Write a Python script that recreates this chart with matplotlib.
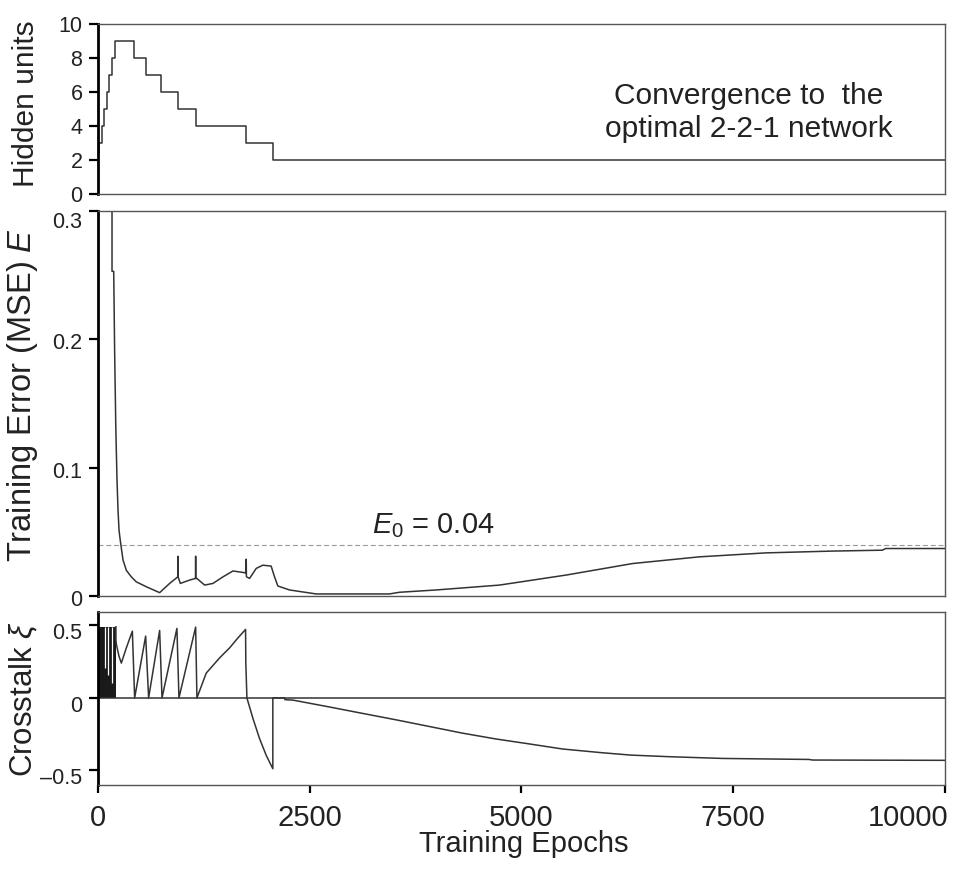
import matplotlib
matplotlib.use('Agg')
import matplotlib.pyplot as plt
import matplotlib.transforms as mtransforms

plt.rcParams['font.family'] = ['Liberation Sans', 'DejaVu Sans']
plt.rcParams['mathtext.fontset'] = 'custom'
plt.rcParams['mathtext.rm'] = 'Liberation Sans'
plt.rcParams['mathtext.it'] = 'Liberation Sans:italic'
plt.rcParams['mathtext.sf'] = 'Liberation Sans'

# ---------------- data ----------------
# Hidden units (step function)
hu_epochs = [0, 20, 35, 55, 74, 110, 133, 169, 209, 425, 574, 751, 947, 1164, 1753, 2067, 10000]
hu_units = [2.4, 3, 3, 4, 5, 6, 7, 8, 9, 8, 7, 6, 5, 4, 3, 2, 2]

# Training error
err_epochs = [169, 169, 189, 200, 214, 228, 240, 252, 271, 299,
              338, 397, 456, 574, 731, 849, 945, 947, 949, 975,
              1085, 1154, 1156, 1158, 1170, 1262, 1360, 1478, 1596, 1751,
              1753, 1755, 1792, 1871, 1949, 2047, 2087, 2126, 2264, 2579,
              3443, 3561, 3994, 4741, 5527, 6313, 7099, 7885, 8671, 9261,
              9300, 10000]
err_values = [0.40, 0.253, 0.253, 0.19, 0.13, 0.09, 0.0667, 0.051, 0.041, 0.028,
              0.020, 0.0149, 0.011, 0.0072, 0.0026, 0.0098, 0.0149, 0.031, 0.0149, 0.0098,
              0.0124, 0.0137, 0.031, 0.0137, 0.0137, 0.0085, 0.0098, 0.0149, 0.0195, 0.018,
              0.0287, 0.015, 0.0137, 0.0215, 0.024, 0.0233, 0.0149, 0.0078, 0.0047, 0.0016,
              0.0016, 0.0029, 0.0047, 0.0085, 0.0163, 0.0253, 0.0305, 0.0336, 0.035, 0.0357,
              0.037, 0.037]
E0 = 0.04

# Crosstalk
ct_dense_epochs = [0, 0, 215, 215]          # dense oscillation block (outline)
ct_dense_values = [0, 0.49, 0.49, 0]
ct_gap_epochs = [86, 126, 173]              # light gaps inside the dense block
ct_gap_low = [0.205, 0.159, 0.10]
ct_gap_high = [0.49, 0.49, 0.49]

ct_epochs = [215, 215, 220, 250, 279, 338, 409, 436, 566, 601,
             731, 759, 935, 959, 1156, 1171, 1281, 1439, 1557, 1650,
             1745, 1748, 1761, 1832, 1910, 1989, 2067, 2067, 2205, 2210,
             2303, 2736, 3129, 3522, 3915, 4308, 4701, 5094, 5487, 5959,
             6293, 6745, 7374, 8396, 8436, 10000]
ct_values = [0.49, 0.40, 0.37, 0.29, 0.24, 0.345, 0.46, 0.0, 0.426, 0.0,
             0.465, 0.0, 0.479, 0.0, 0.488, 0.0, 0.171, 0.276, 0.345, 0.41,
             0.472, 0.243, 0.0, -0.141, -0.28, -0.396, -0.488, 0.0, 0.0, -0.012,
             -0.015, -0.0625, -0.107, -0.151, -0.197, -0.243, -0.283, -0.317, -0.352, -0.378,
             -0.394, -0.405, -0.417, -0.424, -0.428, -0.43]

x_ticks = [0, 2500, 5000, 7500, 10000]
hu_ticks = [0, 2, 4, 6, 8, 10]
err_ticks = [0, 0.1, 0.2, 0.3]
err_ticklabels = ['0', '0.1', '0.2', '0.3']
ct_ticks = [-0.5, 0, 0.5]
ct_ticklabels = ['\u20130.5', '0', '0.5']

# ---------------- figure ----------------
W, H = 954, 875
fig = plt.figure(figsize=(W / 100, H / 100), dpi=100)

L = 97.7 / W
AW = (945 - 97.7) / W

def rect(top_px, bot_px):
    return [L, 1 - bot_px / H, AW, (bot_px - top_px) / H]

ax1 = fig.add_axes(rect(24, 194))
ax2 = fig.add_axes(rect(211, 596))
ax3 = fig.add_axes(rect(612, 785))

LINE = '#333333'
SP = '#555555'
TXT = '#222222'
LABX = -0.0683

def shift(label, dx_px, dy_px):
    label.set_transform(label.get_transform() +
                        mtransforms.ScaledTranslation(dx_px / 100, dy_px / 100, fig.dpi_scale_trans))

for ax in (ax1, ax2, ax3):
    ax.set_xlim(0, 10000)
    for s in ('top', 'right', 'bottom'):
        ax.spines[s].set_color(SP)
        ax.spines[s].set_linewidth(1.0)
    ax.spines['left'].set_color('black')
    ax.spines['left'].set_linewidth(2.0)
    ax.tick_params(axis='y', direction='out', length=6.5, width=1.6, color='black',
                   labelsize=15.5, pad=4.5, right=False, labelcolor=TXT)
    ax.set_xticks(x_ticks)
    ax.patch.set_alpha(0)

for ax in (ax1, ax2):
    ax.tick_params(axis='x', bottom=False, labelbottom=False, top=False)

ax3.tick_params(axis='x', direction='out', length=6, width=1.6, color='black',
                labelsize=21, pad=8, labelcolor=TXT)
ax3.set_xticklabels([str(t) for t in x_ticks])
last = ax3.get_xticklabels()[-1]
last.set_horizontalalignment('right')
shift(last, 3, 0)

# Top panel: hidden units
ax1.step(hu_epochs, hu_units, where='post', color=LINE, lw=1.1)
ax1.set_ylim(0, 10)
ax1.set_yticks(hu_ticks)
ax1.set_ylabel('Hidden units', fontsize=21.5, color=TXT)
ax1.yaxis.set_label_coords(LABX, 0.53)
ax1.text(7680, 5.29, 'Convergence to  the', ha='center', va='baseline', fontsize=21.5, color=TXT)
ax1.text(7680, 3.37, 'optimal 2-2-1 network', ha='center', va='baseline', fontsize=21.5, color=TXT)

# Middle panel: training error
ax2.plot(err_epochs, err_values, color=LINE, lw=1.1, clip_on=True)
ax2.axhline(E0, color='#999999', lw=0.8, ls=(0, (4.5, 2.5)))
ax2.set_ylim(0, 0.3)
ax2.set_yticks(err_ticks)
ax2.set_yticklabels(err_ticklabels)
for i, lab in enumerate(ax2.get_yticklabels()):
    shift(lab, 0, -9 if i == len(err_ticks) - 1 else -2)
ax2.set_ylabel('Training Error (MSE) $E$', fontsize=23.5, color=TXT)
ax2.yaxis.set_label_coords(LABX, 0.522)
ax2.text(3237, 0.0488, '$E_0$ = 0.04', ha='left', va='baseline', fontsize=21, color=TXT)

# Bottom panel: crosstalk
ax3.axhline(0, color=LINE, lw=1.1)
ax3.fill(ct_dense_epochs, ct_dense_values, color='#1a1a1a', lw=0)
ax3.vlines(ct_gap_epochs, ct_gap_low, ct_gap_high, color='white', lw=0.9)
ax3.plot(ct_epochs, ct_values, color=LINE, lw=1.1)
ax3.set_ylim(-0.6, 0.592)
ax3.set_yticks(ct_ticks)
ax3.set_yticklabels(ct_ticklabels)
for lab in ax3.get_yticklabels():
    shift(lab, 0, -6)
ax3.set_ylabel('Crosstalk $\\xi$', fontsize=22.5, color=TXT)
ax3.yaxis.set_label_coords(LABX, 0.497)

fig.text(524 / W, 1 - 852 / H, 'Training Epochs', ha='center', va='baseline', fontsize=21, color=TXT)

fig.savefig('out.png', dpi=100)
